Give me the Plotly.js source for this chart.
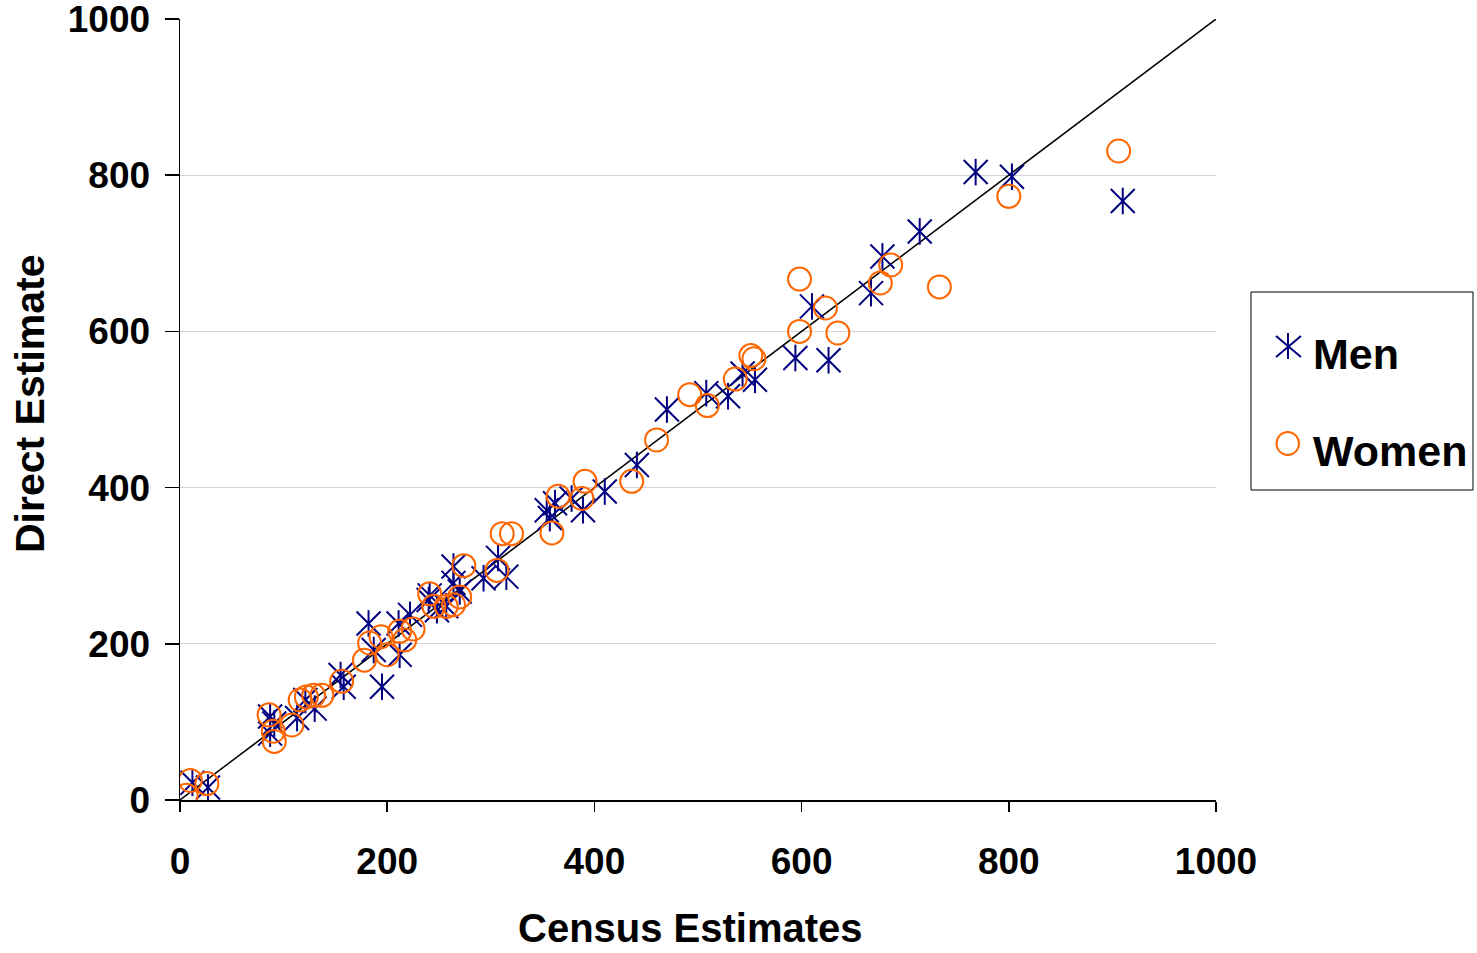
<!DOCTYPE html>
<html>
<head>
<meta charset="utf-8">
<script src="https://cdn.plot.ly/plotly-3.0.1.min.js"></script>
<style>html,body{margin:0;padding:0;background:#fff;}#chart{width:1477px;height:953px;}</style>
</head>
<body>
<div id="chart"></div>
<script>
// Men (census, direct)
const menCensus = [12,27,87,91,87,113,121,130,155,158,182,195,187,211,212,222,241,248,240,257,264,264,270,293,307,315,354,357,362,378,389,410,441,470,508,529,543,555,594,610,626,667,678,714,768,803,910];
const menDirect = [22,16,107,98,85,105,128,117,160,145,226,145,192,226,186,237,262,243,256,248,299,278,267,284,310,286,371,361,380,386,371,395,429,500,521,517,546,538,566,632,563,649,696,728,804,798,767];
// Women (census, direct)
const womenCensus = [10,6,26,86,90,91,108,116,129,122,137,156,178,183,194,200,212,217,225,241,245,257,270,264,274,306,311,320,359,365,388,391,436,460,492,509,536,551,554,598,598,623,635,676,686,733,800,906];
const womenDirect = [25,6,21,109,88,75,96,128,134,132,134,152,179,201,209,186,216,205,219,264,248,248,260,250,300,294,341,341,342,389,386,408,408,461,519,505,539,569,565,667,600,630,598,662,685,657,773,831];
const lineX = [0,1000];
const lineY = [0,1000];
const tickVals = [0,200,400,600,800,1000];
const tickText = ['0','200','400','600','800','1000'];
const seriesNames = ['Men','Women'];
const xTitle = 'Census Estimates';
const yTitle = 'Direct Estimate';

const font = 'Liberation Sans, Arial, sans-serif';
const navy = '#000080';
const orange = '#FF6600';

// plot area in pixels (for the hand-built legend / titles only)
const W = 1477, H = 953, L = 180, R = 261, T = 19, B = 153;
const pw = W - L - R, ph = H - T - B;
const px = v => (v - L) / pw;
const py = v => (H - B - v) / ph;

const traces = [
  {x: lineX, y: lineY, mode: 'lines', line: {color: '#000', width: 1.5}, showlegend: false, hoverinfo: 'skip'},
  {x: menCensus, y: menDirect, mode: 'markers', name: seriesNames[0], showlegend: false,
   marker: {symbol: 'x-thin-open', size: 24, color: navy, line: {color: navy, width: 2}}},
  {x: menCensus, y: menDirect, mode: 'markers', name: seriesNames[0], showlegend: false,
   marker: {symbol: 'line-ns-open', size: 19, color: navy, line: {color: navy, width: 2}}},
  {x: womenCensus, y: womenDirect, mode: 'markers', name: seriesNames[1], showlegend: false,
   marker: {symbol: 'circle-open', size: 23, color: orange, line: {color: orange, width: 2}}}
];

const legendShapes = [
  {type: 'rect', xref: 'paper', yref: 'paper', x0: px(1251), x1: px(1473), y0: py(490), y1: py(292),
   line: {color: '#000', width: 1}, fillcolor: 'rgba(0,0,0,0)'},
  {type: 'line', xref: 'paper', yref: 'paper', x0: px(1288), x1: px(1288), y0: py(333), y1: py(359),
   line: {color: navy, width: 2}},
  {type: 'line', xref: 'paper', yref: 'paper', x0: px(1276), x1: px(1301), y0: py(336), y1: py(357),
   line: {color: navy, width: 2}},
  {type: 'line', xref: 'paper', yref: 'paper', x0: px(1276), x1: px(1301), y0: py(357), y1: py(336),
   line: {color: navy, width: 2}},
  {type: 'circle', xref: 'paper', yref: 'paper', x0: px(1276.5), x1: px(1299), y0: py(455), y1: py(432),
   line: {color: orange, width: 2}, fillcolor: 'rgba(0,0,0,0)'}
];

const anns = [
  {xref: 'paper', yref: 'paper', x: px(1311), y: py(354), xanchor: 'left', yanchor: 'middle', showarrow: false,
   text: '<b>' + seriesNames[0] + '</b>', font: {family: font, size: 43, color: '#000'}},
  {xref: 'paper', yref: 'paper', x: px(1311), y: py(451), xanchor: 'left', yanchor: 'middle', showarrow: false,
   text: '<b>' + seriesNames[1] + '</b>', font: {family: font, size: 43, color: '#000'}},
  {xref: 'paper', yref: 'paper', x: px(30), y: py(404), xanchor: 'center', yanchor: 'middle', showarrow: false,
   textangle: -90, text: '<b>' + yTitle + '</b>', font: {family: font, size: 41, color: '#000'}},
  {xref: 'paper', yref: 'paper', x: px(690), y: py(951), xanchor: 'center', yanchor: 'bottom', showarrow: false,
   borderpad: 0, text: '<b>' + xTitle + '</b>', font: {family: font, size: 40, color: '#000'}}
];

const layout = {
  width: W, height: H,
  margin: {l: L, r: R, t: T, b: B},
  paper_bgcolor: '#fff', plot_bgcolor: '#fff',
  font: {family: font, color: '#000'},
  showlegend: false,
  xaxis: {
    range: [0, 1000], tickvals: tickVals, ticktext: tickText,
    showgrid: false, zeroline: false, showline: true, linecolor: '#000', linewidth: 1.5,
    ticks: 'outside', ticklen: 10, tickwidth: 1.5, tickcolor: '#000', ticklabelstandoff: 18,
    ticklabeloverflow: 'allow',
    tickfont: {family: font, size: 37, color: '#000', weight: 'bold'}
  },
  yaxis: {
    range: [0, 1000], tickvals: tickVals, ticktext: tickText,
    showgrid: true, gridcolor: '#d4d4d4', gridwidth: 1, zeroline: false,
    showline: true, linecolor: '#000', linewidth: 1.5,
    ticks: 'outside', ticklen: 14, tickwidth: 1.5, tickcolor: '#000', ticklabelstandoff: 7,
    ticklabeloverflow: 'allow',
    tickfont: {family: font, size: 37, color: '#000', weight: 'bold'}
  },
  shapes: legendShapes,
  annotations: anns
};

Plotly.newPlot('chart', traces, layout, {staticPlot: true, displayModeBar: false});
</script>
</body>
</html>
